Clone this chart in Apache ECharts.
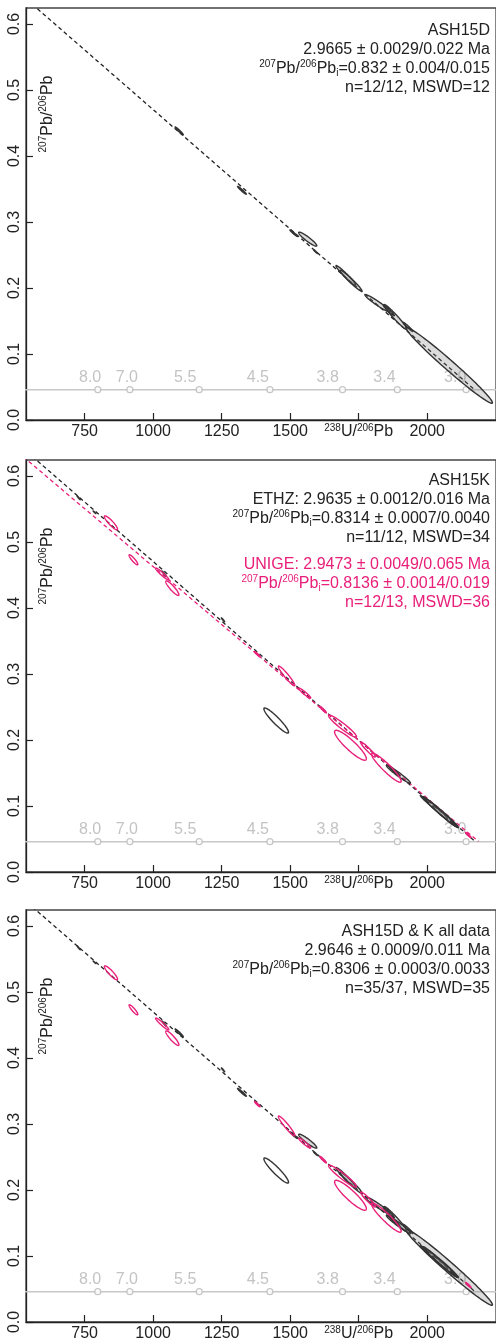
<!DOCTYPE html>
<html><head><meta charset="utf-8">
<script src="https://cdn.jsdelivr.net/npm/echarts@6/dist/echarts.min.js"></script>
<style>html,body{margin:0;padding:0;background:#fff}#c{width:496px;height:1344px}</style>
</head><body><div id="c"></div>
<script>
// ---------- data ----------
const xTicks = [750, 1000, 1250, 1500, 1750, 2000];
const yTicks = [0, 0.1, 0.2, 0.3, 0.4, 0.5, 0.6];
const concordiaAges = ['8.0', '7.0', '5.5', '4.5', '3.8', '3.4', '3.0'];
const concordiaX = [798, 915, 1168, 1426, 1691, 1891, 2142];
const concordiaLabelX = [770, 904, 1117, 1382, 1637, 1844, 2102];
const concordiaY = 0.046;
const concordiaLineX = [400, 2400];
// ellipses: [238U/206Pb, 207Pb/206Pb, halfWidthX, halfWidthY, rho, rejected]
const ash15d = [
  [1095, 0.438, 15, 0.006, -0.97, 0],
  [1324, 0.348, 16, 0.006, -0.97, 0],
  [1513, 0.283, 14, 0.005, -0.97, 0],
  [1564, 0.274, 33, 0.0106, -0.93, 0],
  [1593, 0.255, 8, 0.003, -0.97, 0],
  [1703, 0.219, 36, 0.015, -0.97, 0],
  [1722, 0.211, 40, 0.016, -0.97, 0],
  [1818, 0.177, 45, 0.013, -0.96, 0],
  [1884, 0.156, 42, 0.019, -0.97, 0],
  [1860, 0.166, 20, 0.008, -0.97, 0],
  [1930, 0.141, 18, 0.007, -0.97, 0],
  [2080, 0.083, 158, 0.0576, -0.985, 0]
];
const ash15kEthz = [
  [728, 0.567, 6, 0.003, -0.97, 0],
  [786, 0.545, 5, 0.002, -0.97, 0],
  [1040, 0.452, 8, 0.004, -0.97, 0],
  [1255, 0.382, 6, 0.003, -0.97, 0],
  [1449, 0.2295, 45, 0.019, -0.93, 1],
  [1895, 0.148, 44, 0.0136, -0.97, 0],
  [1880, 0.153, 20, 0.008, -0.97, 0],
  [2030, 0.097, 45, 0.017, -0.98, 0],
  [2065, 0.084, 45, 0.016, -0.98, 0],
  [2050, 0.090, 62, 0.022, -0.985, 0],
  [1990, 0.110, 15, 0.006, -0.97, 0],
  [2100, 0.072, 14, 0.005, -0.97, 0]
];
const ash15kUnige = [
  [846, 0.529, 24, 0.0106, -0.9, 0],
  [928, 0.473, 16, 0.0076, -0.9, 1],
  [1033, 0.4515, 24, 0.009, -0.95, 0],
  [1070, 0.430, 24, 0.011, -0.9, 0],
  [1487, 0.297, 30, 0.015, -0.95, 0],
  [1553, 0.271, 22, 0.0076, -0.95, 0],
  [1691, 0.221, 51, 0.0167, -0.95, 0],
  [1720, 0.192, 58, 0.0227, -0.9, 0],
  [1784, 0.1856, 27, 0.0114, -0.95, 0],
  [1851, 0.158, 54, 0.022, -0.93, 0],
  [1620, 0.246, 12, 0.005, -0.95, 0],
  [1380, 0.330, 10, 0.004, -0.95, 0],
  [2150, 0.056, 10, 0.004, -0.95, 0]
];
// regression lines: [y-intercept point, concordia intersection]
const fitD = [[0, 0.832], [2172, 0.0462]];
const fitKEthz = [[0, 0.8314], [2175, 0.0462]];
const fitKUnige = [[0, 0.8136], [2187, 0.0462]];
const fitAll = [[0, 0.8306], [2174, 0.0462]];

// ---------- layout / style ----------
const FONT = "'Liberation Sans', Arial, Helvetica, sans-serif";
const FS = 16;
const PINK = '#e8207a';
const DARK = '#222';
const tops = [8, 460, 910];
const H = 412;
const LEFT = 26, W = 472;
const XMIN = 536, XMAX = 2251, YMAX = 0.6242;
const supRich = {
  sup: { fontSize: 10, lineHeight: 13, verticalAlign: 'top', fontFamily: FONT },
  sub: { fontSize: 10, lineHeight: 13, verticalAlign: 'bottom', fontFamily: FONT }
};

const chart = echarts.init(document.getElementById('c'), null, { renderer: 'canvas' });

const grids = [], xAxes = [], yAxes = [], series = [], graphics = [];

function ellipseSeries(data, gi, stroke, fillIn, fillRej, z) {
  return {
    type: 'custom', xAxisIndex: gi, yAxisIndex: gi, data: data, z: z, silent: true,
    encode: { x: 0, y: 1 },
    renderItem: function (params, api) {
      const cx = api.value(0), cy = api.value(1), sx = api.value(2), sy = api.value(3), r = api.value(4), rej = api.value(5);
      const q = Math.sqrt(1 - r * r);
      const pts = [];
      for (let k = 0; k < 90; k++) {
        const t = k / 90 * 2 * Math.PI;
        pts.push(api.coord([cx + sx * Math.cos(t), cy + sy * (r * Math.cos(t) + q * Math.sin(t))]));
      }
      return { type: 'polygon', shape: { points: pts },
        style: { fill: rej ? fillRej : fillIn, stroke: stroke, lineWidth: 1.4 } };
    }
  };
}
function fitSeries(data, gi, color) {
  return { type: 'line', xAxisIndex: gi, yAxisIndex: gi, data: data, symbol: 'none', silent: true, z: 3,
    lineStyle: { color: color, width: 1.3, type: [4, 3] } };
}

for (let i = 0; i < 3; i++) {
  grids.push({ left: LEFT, top: tops[i], width: W, height: H, show: true, borderColor: '#444', borderWidth: 1.3, backgroundColor: 'transparent' });
  xAxes.push({ type: 'value', gridIndex: i, min: XMIN, max: XMAX,
    axisLine: { show: true, onZero: false, lineStyle: { color: DARK, width: 1.3 } },
    axisTick: { show: true, inside: true, length: 7, customValues: xTicks, lineStyle: { color: DARK, width: 1.2 } },
    splitLine: { show: false },
    axisLabel: { customValues: xTicks, margin: 3, color: DARK, fontSize: FS, fontFamily: FONT, lineHeight: 18,
      formatter: v => v === 1750 ? '{sup|238}U/{sup|206}Pb' : String(v), rich: supRich } });
  yAxes.push({ type: 'value', gridIndex: i, min: 0, max: YMAX,
    axisLine: { show: true, onZero: false, lineStyle: { color: DARK, width: 1.3 } },
    axisTick: { show: true, inside: true, length: 7, customValues: yTicks, lineStyle: { color: DARK, width: 1.2 } },
    splitLine: { show: false },
    axisLabel: { customValues: yTicks, rotate: 90, margin: 3, color: DARK, fontSize: FS, fontFamily: FONT,
      formatter: v => v.toFixed(1) } });
  // concordia
  series.push({ type: 'line', xAxisIndex: i, yAxisIndex: i, data: concordiaLineX.map(x => [x, concordiaY]),
    symbol: 'none', silent: true, z: 1, lineStyle: { color: '#c8c8c8', width: 1.5 } });
  series.push({ type: 'scatter', xAxisIndex: i, yAxisIndex: i, data: concordiaX.map(x => [x, concordiaY]),
    symbol: 'circle', symbolSize: 6, silent: true, z: 2,
    itemStyle: { color: '#fff', borderColor: '#b8b8b8', borderWidth: 1.2 } });
  series.push({ type: 'scatter', xAxisIndex: i, yAxisIndex: i, data: concordiaLabelX.map(x => [x, concordiaY]),
    symbolSize: 0, silent: true, z: 2,
    label: { show: true, position: 'top', distance: 4, color: '#b4b4b4', fontSize: FS, fontFamily: FONT,
      formatter: p => concordiaAges[p.dataIndex] } });
  // y-axis title
  graphics.push({ type: 'text', x: 48, y: tops[i] + 106, rotation: Math.PI / 2, z: 10,
    style: { text: '{sup|207}Pb/{sup|206}Pb', rich: supRich, fontSize: FS, fontFamily: FONT, fill: DARK,
      align: 'center', verticalAlign: 'middle', lineHeight: 19 } });
}

// panel 1
series.push(fitSeries(fitD, 0, DARK));
series.push(ellipseSeries(ash15d, 0, '#333', 'rgba(120,120,120,0.26)', 'rgba(255,255,255,0)', 4));
// panel 2
series.push(fitSeries(fitKEthz, 1, DARK));
series.push(fitSeries(fitKUnige, 1, PINK));
series.push(ellipseSeries(ash15kEthz, 1, '#333', 'rgba(120,120,120,0.26)', 'rgba(255,255,255,0)', 4));
series.push(ellipseSeries(ash15kUnige, 1, PINK, 'rgba(255,255,255,0)', 'rgba(255,255,255,0)', 5));
// panel 3
series.push(fitSeries(fitAll, 2, DARK));
series.push(ellipseSeries(ash15d, 2, '#333', 'rgba(120,120,120,0.26)', 'rgba(255,255,255,0)', 4));
series.push(ellipseSeries(ash15kEthz, 2, '#333', 'rgba(120,120,120,0.26)', 'rgba(255,255,255,0)', 4));
series.push(ellipseSeries(ash15kUnige, 2, PINK, 'rgba(255,255,255,0)', 'rgba(255,255,255,0)', 5));

// annotations
function note(x, y, text, color) {
  graphics.push({ type: 'text', x: x, y: y, z: 10,
    style: { text: text, rich: supRich, fontSize: FS, fontFamily: FONT, fill: color, align: 'right', verticalAlign: 'top', lineHeight: 19 } });
}
const PB = '{sup|207}Pb/{sup|206}Pb{sub|i}';
note(490, tops[0] + 13, ['ASH15D', '2.9665 ± 0.0029/0.022 Ma', PB + '=0.832 ± 0.004/0.015', 'n=12/12, MSWD=12'].join('\n'), DARK);
note(490, tops[1] + 11, ['ASH15K', 'ETHZ: 2.9635 ± 0.0012/0.016 Ma', PB + '=0.8314 ± 0.0007/0.0040', 'n=11/12, MSWD=34'].join('\n'), DARK);
note(490, tops[1] + 95, ['UNIGE: 2.9473 ± 0.0049/0.065 Ma', PB + '=0.8136 ± 0.0014/0.019', 'n=12/13, MSWD=36'].join('\n'), PINK);
note(490, tops[2] + 12, ['ASH15D & K all data', '2.9646 ± 0.0009/0.011 Ma', PB + '=0.8306 ± 0.0003/0.0033', 'n=35/37, MSWD=35'].join('\n'), DARK);

chart.setOption({
  animation: false,
  backgroundColor: '#fff',
  grid: grids, xAxis: xAxes, yAxis: yAxes, series: series, graphic: graphics
});
</script></body></html>
